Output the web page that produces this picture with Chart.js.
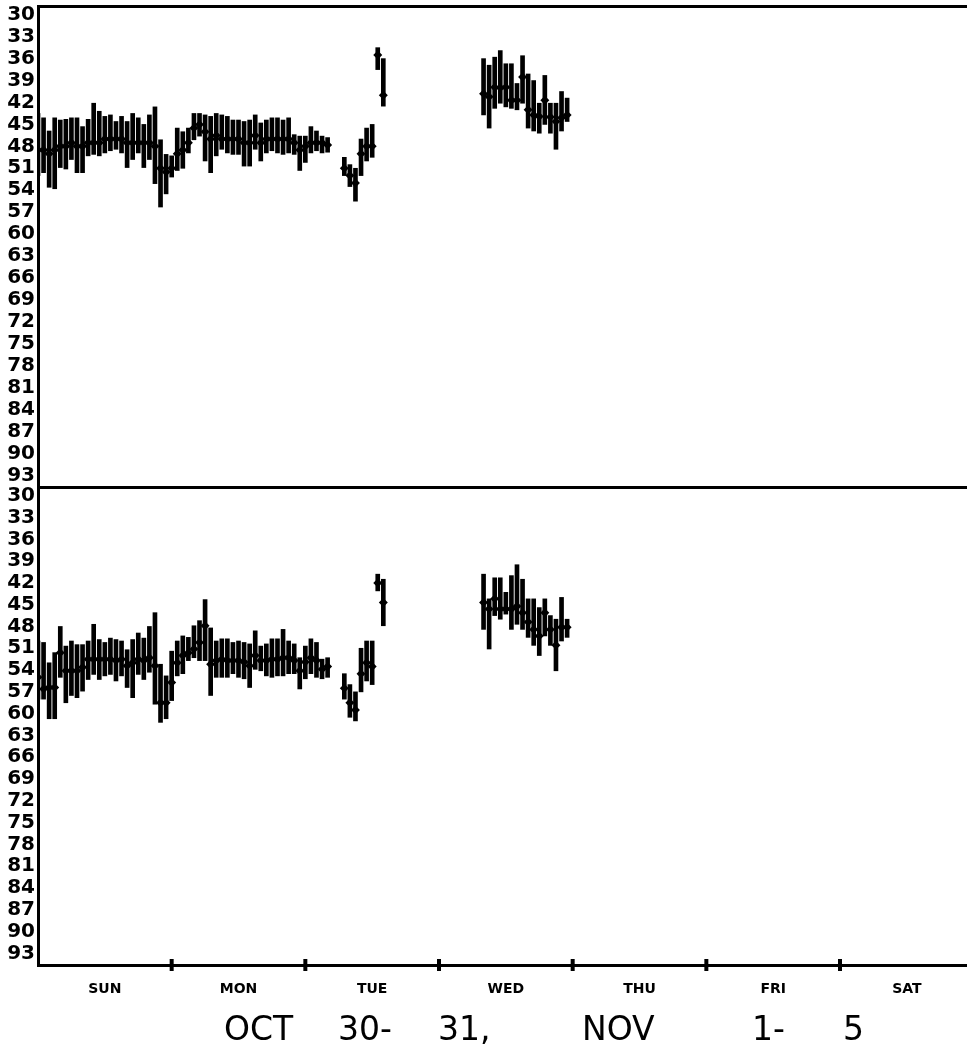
<!DOCTYPE html>
<html>
<head>
<meta charset="utf-8">
<script src="https://cdn.jsdelivr.net/npm/chart.js@4.4.1/dist/chart.umd.min.js"></script>
<style>
  body { margin: 0; background: #fff; width: 967px; height: 1056px; overflow: hidden; position: relative; }
  canvas { position: absolute; left: 0; }
  #topChart { top: 0; }
  #bottomChart { top: 487px; }
  .word { position: absolute; top: 1012px; font-family: 'DejaVu Sans', sans-serif; font-size: 33px; line-height: 33px; color: #000; white-space: pre; }
</style>
</head>
<body>
<canvas id="topChart" width="967" height="490"></canvas>
<canvas id="bottomChart" width="967" height="569"></canvas>
<div class="word" style="left:224px">OCT</div>
<div class="word" style="left:338px">30-</div>
<div class="word" style="left:438px">31,</div>
<div class="word" style="left:582px">NOV</div>
<div class="word" style="left:752px">1-</div>
<div class="word" style="left:843px">5</div>
<script>
// Horas desde el domingo 00:00 con dato
const hours = [0, 1, 2, 3, 4, 5, 6, 7, 8, 9, 10, 11, 12, 13, 14, 15, 16, 17, 18, 19, 20, 21, 22, 23,
    24, 25, 26, 27, 28, 29, 30, 31, 32, 33, 34, 35, 36, 37, 38, 39, 40, 41, 42, 43, 44, 45, 46, 47,
    48, 49, 50, 51, 52, 55, 56, 57, 58, 59, 60, 61, 62,
    80, 81, 82, 83, 84, 85, 86, 87, 88, 89, 90, 91, 92, 93, 94, 95];

// Panel superior
const topLow = [43.5, 44.1, 45.9, 44.1, 44.4, 44.3, 44.1, 44.1, 45.3, 44.3, 42.1, 43.2, 43.9, 43.7, 44.6, 43.9, 44.6, 43.5, 44.1, 45.0, 43.7, 42.6, 47.1, 49.1,
    49.3, 45.5, 46.0, 45.5, 43.5, 43.5, 43.7, 43.9, 43.5, 43.7, 43.9, 44.4, 44.4, 44.6, 44.4, 43.7, 44.8, 44.4, 44.1, 44.1, 44.4, 44.1, 46.4, 46.6,
    46.6, 45.3, 45.9, 46.6, 46.8, 49.5, 50.5, 51.0, 47.0, 45.5, 45.0, 34.5, 36.0,
    36.0, 36.9, 35.8, 34.9, 36.7, 36.7, 39.4, 35.6, 38.1, 39.0, 42.1, 38.3, 42.1, 42.1, 40.5, 41.4];
const topHigh = [52.0, 51.6, 53.6, 53.8, 50.9, 51.1, 49.8, 51.6, 51.6, 49.3, 49.1, 49.3, 48.9, 48.6, 48.4, 48.9, 50.9, 49.8, 48.9, 50.9, 49.8, 53.1, 56.3, 54.5,
    52.2, 51.3, 51.0, 48.9, 47.1, 46.6, 50.0, 51.6, 49.3, 48.4, 48.9, 49.1, 49.1, 50.7, 50.7, 48.4, 50.0, 48.9, 48.6, 48.9, 49.1, 48.9, 49.1, 51.3,
    50.2, 48.9, 48.6, 48.9, 48.8, 52.0, 53.5, 55.5, 52.0, 50.0, 49.5, 37.5, 42.5,
    43.7, 45.5, 42.8, 42.1, 42.6, 42.8, 43.0, 42.1, 45.5, 45.9, 46.2, 45.0, 46.2, 48.4, 45.9, 44.6];
const topMid = [48.5, 48.5, 49.0, 48.5, 48.0, 48.0, 47.5, 48.0, 48.0, 47.5, 47.5, 47.5, 47.0, 47.0, 47.0, 47.0, 47.5, 47.5, 47.5, 47.5, 47.5, 48.0, 51.0, 51.5,
    51.0, 49.0, 48.5, 47.5, 45.5, 45.0, 46.0, 47.0, 46.5, 47.0, 47.0, 47.0, 47.0, 47.5, 47.5, 46.5, 47.5, 47.0, 47.0, 47.0, 47.0, 47.0, 47.5, 48.5,
    48.0, 47.5, 47.5, 47.5, 47.8, 51.0, 52.0, 53.0, 49.0, 48.0, 48.0, 35.5, 41.0,
    40.8, 41.2, 39.9, 40.0, 39.9, 41.7, 41.7, 38.5, 43.0, 43.7, 43.9, 41.7, 44.0, 44.6, 44.1, 43.7];

// Panel inferior
const bottomLow = [50.0, 50.2, 53.0, 51.6, 48.0, 50.7, 50.0, 50.5, 50.5, 50.0, 47.7, 49.8, 50.2, 49.6, 49.8, 50.0, 51.2, 49.8, 48.9, 49.6, 48.0, 46.1, 53.2, 54.8,
    51.4, 50.0, 49.3, 49.5, 47.9, 47.2, 44.3, 48.2, 50.0, 49.7, 49.7, 50.2, 50.0, 50.2, 50.4, 48.6, 50.7, 50.4, 49.7, 49.7, 48.4, 50.0, 50.4, 52.3,
    50.7, 49.7, 50.2, 52.5, 52.3, 54.5, 56.0, 57.0, 51.0, 50.0, 50.0, 40.8, 41.5,
    40.8, 44.2, 41.3, 41.3, 43.3, 41.0, 39.5, 41.5, 44.2, 44.2, 45.4, 44.2, 46.5, 47.0, 44.0, 47.0];
const bottomHigh = [58.0, 58.0, 60.7, 60.7, 55.0, 58.5, 57.5, 57.8, 56.9, 55.3, 54.6, 55.3, 54.8, 54.6, 55.5, 54.8, 56.4, 57.8, 54.6, 55.3, 54.3, 58.7, 61.2, 60.7,
    58.2, 54.8, 54.5, 52.7, 52.3, 52.7, 52.7, 57.5, 55.0, 55.0, 55.0, 54.5, 55.0, 55.2, 56.4, 53.9, 54.1, 54.8, 55.0, 54.8, 54.8, 54.5, 54.5, 56.6,
    55.2, 54.5, 55.0, 55.2, 55.0, 58.0, 60.5, 61.0, 57.0, 55.5, 56.0, 43.1, 47.9,
    48.4, 51.1, 46.5, 47.0, 46.3, 48.4, 47.7, 48.4, 49.5, 50.6, 52.0, 49.3, 50.6, 54.1, 50.0, 49.5];
const bottomMid = [55.0, 56.6, 56.4, 56.4, 51.6, 54.1, 54.1, 54.1, 53.6, 52.5, 52.5, 52.5, 52.5, 52.5, 52.7, 52.5, 53.4, 53.0, 52.5, 52.7, 52.3, 53.4, 58.5, 58.5,
    55.7, 53.0, 52.0, 51.6, 51.1, 50.2, 47.9, 53.2, 52.7, 52.5, 52.7, 52.7, 52.7, 52.9, 53.4, 52.0, 52.7, 52.7, 52.5, 52.5, 52.3, 52.3, 52.7, 54.1,
    52.9, 52.3, 52.7, 53.9, 53.5, 56.5, 58.5, 59.5, 54.5, 53.0, 53.5, 42.0, 44.7,
    44.7, 45.6, 44.2, 45.6, 45.6, 45.6, 45.2, 46.1, 47.4, 48.4, 49.3, 46.1, 48.4, 50.6, 48.1, 48.1];

// Ejes
const yTicks = [30, 33, 36, 39, 42, 45, 48, 51, 54, 57, 60, 63, 66, 69, 72, 75, 78, 81, 84, 87, 90, 93];
const dayLabels = ['SUN', 'MON', 'TUE', 'WED', 'THU', 'FRI', 'SAT'];
const dayCenters = [12, 36, 60, 84, 108, 132, 156];
const dayBounds = [24, 48, 72, 96, 120, 144];
const yMin = 28.8, yMax = 94.6;
const xMin = 0, xMax = 166.8;

function barData(lo, hi) {
    return hours.map((h, i) => ({ x: h, y: [lo[i], hi[i]] }));
}

function midData(mid) {
    return hours.map((h, i) => ({ x: h, y: mid[i] }));
}

// sin margen extra por las etiquetas de los extremos
function noPadding(axis) {
    axis.paddingTop = 0;
    axis.paddingBottom = 0;
    axis.paddingLeft = 0;
    axis.paddingRight = 0;
}

function makePanel(id, lo, hi, mid, withDays) {
    const datasets = [{
        type: 'bar',
        data: barData(lo, hi),
        backgroundColor: '#000',
        borderWidth: 0,
        barThickness: 4
    }, {
        type: 'line',
        data: midData(mid),
        showLine: false,
        pointStyle: 'rectRot',
        pointRadius: 4.5,
        pointBackgroundColor: '#000',
        pointBorderWidth: 0
    }];
    if (withDays) {
        datasets.push({
            type: 'line',
            data: dayBounds.map(d => ({ x: d, y: yMax })),
            showLine: false,
            clip: false,
            pointStyle: 'line',
            rotation: 90,
            pointRadius: 6,
            pointBorderWidth: 4,
            borderColor: '#000'
        });
    }
    const scales = {
        x: {
            type: 'linear',
            min: xMin,
            max: xMax,
            offset: false,
            grid: { display: false, drawTicks: false, offset: false },
            border: { display: true, color: '#000', width: 3 },
            ticks: {
                display: withDays,
                autoSkip: false,
                maxRotation: 0,
                padding: 16,
                color: '#000',
                font: { family: "'DejaVu Sans', sans-serif", size: 14, weight: 'bold' },
                callback: (v, i) => dayLabels[i]
            },
            afterBuildTicks: axis => { axis.ticks = dayCenters.map(v => ({ value: v })); },
            afterFit: axis => { axis.height = withDays ? 91 : 0; noPadding(axis); }
        },
        y: {
            type: 'linear',
            min: yMin,
            max: yMax,
            reverse: true,
            grid: { display: false, drawTicks: false },
            border: { display: true, color: '#000', width: 3 },
            ticks: {
                autoSkip: false,
                padding: 3,
                color: '#000',
                font: { family: "'DejaVu Sans', sans-serif", size: 20, weight: 'bold', lineHeight: 1 }
            },
            afterBuildTicks: axis => { axis.ticks = yTicks.map(v => ({ value: v })); },
            afterFit: axis => { axis.width = 38; noPadding(axis); }
        }
    };
    if (!withDays) {
        scales.xTop = {
            type: 'linear',
            position: 'top',
            grid: { display: false, drawTicks: false },
            border: { display: true, color: '#000', width: 3 },
            ticks: { display: false },
            afterFit: axis => { axis.height = 0; noPadding(axis); }
        };
    }
    return new Chart(document.getElementById(id).getContext('2d'), {
        type: 'bar',
        data: { datasets: datasets },
        options: {
            responsive: false,
            animation: false,
            layout: {
                autoPadding: false,
                padding: withDays ? { top: 0, right: 0, bottom: 0, left: 0 } : { top: 6, right: 0, bottom: 3, left: 0 }
            },
            plugins: { legend: { display: false }, tooltip: { enabled: false } },
            scales: scales
        }
    });
}

const topChart = makePanel('topChart', topLow, topHigh, topMid, false);
const bottomChart = makePanel('bottomChart', bottomLow, bottomHigh, bottomMid, true);
</script>
</body>
</html>
